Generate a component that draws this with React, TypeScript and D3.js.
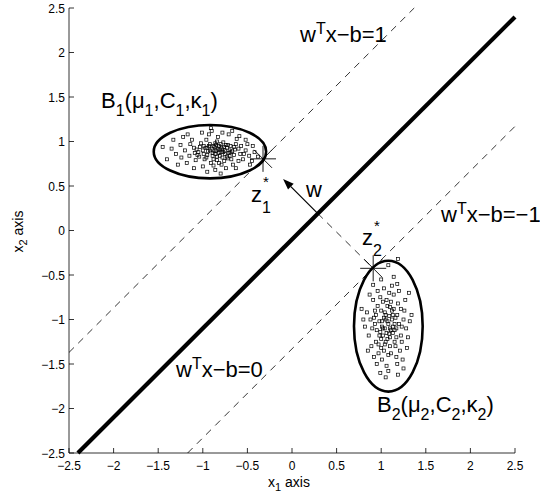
import * as d3 from "d3";

// axis ticks
const ticks = [-2.5, -2, -1.5, -1, -0.5, 0, 0.5, 1, 1.5, 2, 2.5];

// lines x2 = x1 + offset (slope ~1)
const slope = 1.0;
const offsetPlus = 1.13;   // w'x-b=1
const offsetZero = -0.1;   // w'x-b=0
const offsetMinus = -1.33; // w'x-b=-1

// ellipses: [cx, cy, rx, ry]
const ellipse1 = [-0.92, 0.886, 0.63, 0.3];
const ellipse2 = [1.08, -1.075, 0.385, 0.735];

// support points
const z1 = [-0.325, 0.805];
const z2 = [0.91, -0.425];
const footPoint = [0.29, 0.19];
const arrowHead = [-0.1, 0.58];

const pointsB1 = [
  [-0.85,0.90],[-0.80,0.88],[-0.90,0.92],[-0.75,0.86],[-0.95,0.85],[-0.82,0.95],[-0.70,0.90],[-0.88,0.80],[-1.00,0.90],[-0.78,0.82],
  [-0.92,0.97],[-0.65,0.85],[-1.05,0.88],[-0.72,0.96],[-0.86,0.86],[-0.98,0.80],[-0.60,0.92],[-1.10,0.93],[-0.84,1.00],[-0.76,0.78],
  [-0.94,0.89],[-0.68,0.80],[-1.02,0.98],[-0.81,0.91],[-0.73,0.93],[-0.89,0.84],[-0.58,0.86],[-1.15,0.84],[-0.96,1.02],[-0.79,0.74],
  [-0.87,0.94],[-0.63,0.97],[-1.08,0.79],[-0.70,0.84],[-0.91,0.76],[-0.55,0.80],[-1.20,0.90],[-0.83,1.05],[-0.66,0.74],[-1.00,0.72],
  [-0.77,0.99],[-0.52,0.90],[-1.25,0.96],[-0.93,1.08],[-0.74,0.70],[-1.12,1.02],[-0.62,1.03],[-0.48,0.84],[-1.30,0.86],[-0.86,0.68],
  [-0.97,0.93],[-0.69,0.88],[-0.80,0.97],[-1.06,0.85],[-0.57,0.95],[-0.90,1.12],[-0.45,0.78],[-1.35,0.92],[-0.71,1.08],[-1.18,0.76],
  [-0.84,0.83],[-0.64,0.91],[-1.03,0.94],[-0.75,0.90],[-0.99,0.86],[-0.50,0.97],[-1.22,1.05],[-0.88,0.73],[-0.60,0.78],[-1.14,0.97],
  [-0.78,1.10],[-0.42,0.88],[-1.40,0.80],[-0.95,0.66],[-0.67,1.12],[-1.28,0.74],[-0.82,0.87],[-0.73,0.83],[-0.93,0.95],[-0.87,0.89],
  [-1.07,0.91],[-0.54,0.86],[-0.38,0.83],[-1.45,0.94],[-0.80,0.64],[-1.01,1.10],[-0.59,1.06],[-0.47,0.74],[-1.33,1.02],[-0.91,1.15],
  [-0.76,0.94],[-0.85,0.96],[-0.69,0.95],[-0.96,0.82],[-1.10,0.70],[-0.63,0.70],[-1.17,1.08],[-0.52,1.02],[-0.44,0.95],[-1.24,0.82],
  [-0.83,0.92],[-0.77,0.88],[-0.89,0.87],[-0.81,0.84],[-0.74,0.96],[-0.92,0.90],[-0.79,0.93],[-0.86,0.98],[-0.71,0.87],[-0.95,0.93],
  [-0.84,0.79],[-0.67,0.89],[-1.04,0.83],[-0.78,0.91],[-0.88,0.95],[-0.72,0.81],[-0.99,0.95],[-0.82,0.76],[-0.65,0.94],[-1.09,0.87],
];

const pointsB2 = [
  [1.08,-1.05],[1.12,-1.00],[1.02,-1.10],[1.15,-1.12],[1.05,-0.95],[0.98,-1.02],[1.20,-1.05],[1.10,-1.20],[1.00,-0.90],[1.14,-0.88],
  [1.06,-1.15],[0.95,-1.12],[1.18,-0.95],[1.04,-1.28],[1.22,-1.18],[0.92,-0.98],[1.11,-0.80],[1.00,-1.22],[1.16,-1.30],[1.07,-0.85],
  [0.96,-0.85],[1.25,-1.00],[1.03,-1.35],[1.13,-1.08],[0.90,-1.10],[1.19,-0.82],[1.08,-1.40],[0.99,-0.75],[1.23,-1.25],[1.05,-1.00],
  [0.94,-1.25],[1.17,-1.42],[1.09,-0.70],[0.88,-1.00],[1.28,-1.10],[1.01,-1.45],[1.14,-0.72],[0.93,-0.90],[1.21,-1.35],[1.06,-1.52],
  [0.97,-1.38],[1.26,-0.90],[1.12,-0.62],[0.86,-1.18],[1.18,-1.50],[1.03,-0.65],[0.91,-0.78],[1.30,-1.20],[1.08,-1.58],[0.95,-1.50],
  [1.20,-0.68],[1.00,-0.55],[0.84,-0.92],[1.24,-1.45],[1.10,-1.30],[0.98,-1.18],[1.15,-1.05],[1.04,-0.92],[1.07,-1.22],[1.13,-1.15],
  [0.89,-1.30],[1.27,-0.78],[1.02,-0.80],[1.16,-0.98],[0.93,-1.05],[1.22,-0.88],[1.06,-0.78],[1.11,-1.38],[0.96,-0.68],[1.32,-1.02],
  [0.82,-1.08],[1.19,-1.62],[1.05,-1.65],[0.99,-1.60],[1.14,-0.52],[0.87,-0.72],[1.29,-1.32],[1.01,-1.02],[1.09,-0.96],[1.17,-1.20],
  [0.94,-0.95],[1.23,-1.08],[1.04,-1.10],[1.12,-0.90],[0.97,-1.28],[1.34,-0.95],[0.80,-1.00],[1.18,-0.60],[1.08,-0.39],[0.92,-1.42],
  [1.25,-1.55],[1.02,-1.18],[1.19,-0.32],[0.91,-0.61],[1.31,-0.70],[0.85,-1.35],[1.10,-1.10],[1.00,-1.32],[0.78,-0.88],[1.15,-1.25],
  [1.07,-1.02],[1.11,-1.12],[1.03,-0.98],[1.09,-1.16],[1.13,-0.95],[1.01,-1.08],[1.17,-1.10],[1.05,-1.25],[1.10,-0.86],[0.99,-1.14],
];

const W = 540, H = 495;
const font = "'Liberation Sans', Arial, Helvetica, sans-serif";

// text with sub/superscripts: [string, 0 normal | 1 sub | 2 sup]
const Rich = ({ x, y, parts, size = 22, small = 16, shift = 8 }: any) => {
  let level = 0;
  return (
    <text x={x} y={y} fontSize={size} fontFamily={font}>
      {parts.map(([t, m]: any, i: number) => {
        const target = m === 1 ? shift : m === 2 ? -shift : 0;
        const dy = target - level;
        level = target;
        return (
          <tspan key={i} dy={dy} fontSize={m ? small : size}>{t}</tspan>
        );
      })}
    </text>
  );
};

const Star = ({ cx, cy }: any) => {
  const r = 13, d = 9;
  return (
    <g stroke="#000" strokeWidth={0.9}>
      <line x1={cx - r} y1={cy} x2={cx + r} y2={cy} />
      <line x1={cx} y1={cy - r} x2={cx} y2={cy + r} />
      <line x1={cx - d} y1={cy - d} x2={cx + d} y2={cy + d} />
      <line x1={cx - d} y1={cy + d} x2={cx + d} y2={cy - d} />
    </g>
  );
};

const fmt = (t: number) => String(t).replace("-", "\u2212");

export default function App() {
  const x = d3.scaleLinear().domain([-2.5, 2.5]).range([69, 515]);
  const y = d3.scaleLinear().domain([-2.5, 2.5]).range([453, 8]);

  // clip a line x2 = slope*x1 + off to the square
  const seg = (off: number) => {
    let xa = -2.5, ya = slope * xa + off;
    if (ya < -2.5) { ya = -2.5; xa = (ya - off) / slope; }
    let xb = 2.5, yb = slope * xb + off;
    if (yb > 2.5) { yb = 2.5; xb = (yb - off) / slope; }
    return { x1: x(xa), y1: y(ya), x2: x(xb), y2: y(yb) };
  };

  const sPlus = seg(offsetPlus), sZero = seg(offsetZero), sMinus = seg(offsetMinus);

  // arrow
  const ax1 = x(footPoint[0]), ay1 = y(footPoint[1]);
  const ax2 = x(arrowHead[0]), ay2 = y(arrowHead[1]);
  const ang = Math.atan2(ay2 - ay1, ax2 - ax1);
  const hl = 11, hw = 4;
  const bx = ax2 - hl * Math.cos(ang), by = ay2 - hl * Math.sin(ang);
  const head = [
    [ax2, ay2],
    [bx + hw * Math.sin(ang), by - hw * Math.cos(ang)],
    [bx - hw * Math.sin(ang), by + hw * Math.cos(ang)],
  ];

  const dash = "7,6";

  return (
    <svg width={W} height={H} style={{ position: "absolute", left: 0, top: 0, background: "#fff" }}>
      <rect width={W} height={H} fill="#fff" />

      {/* dashed margins */}
      <line {...sPlus} stroke="#000" strokeWidth={0.8} strokeDasharray={dash} />
      <line {...sMinus} stroke="#000" strokeWidth={0.8} strokeDasharray={dash} />
      <line x1={x(footPoint[0])} y1={y(footPoint[1])} x2={x(z2[0])} y2={y(z2[1])}
        stroke="#000" strokeWidth={0.8} strokeDasharray={dash} />

      {/* separating hyperplane */}
      <line {...sZero} stroke="#000" strokeWidth={4.2} />

      {/* samples */}
      <g fill="none" stroke="#000" strokeWidth={0.7}>
        {pointsB1.map((p, i) => (
          <rect key={"a" + i} x={x(p[0]) - 1.5} y={y(p[1]) - 1.5} width={3} height={3} />
        ))}
        {pointsB2.map((p, i) => (
          <rect key={"b" + i} x={x(p[0]) - 1.5} y={y(p[1]) - 1.5} width={3} height={3} />
        ))}
      </g>

      {/* ellipsoids */}
      <ellipse cx={x(ellipse1[0])} cy={y(ellipse1[1])} rx={x(ellipse1[2]) - x(0)} ry={y(0) - y(ellipse1[3])}
        fill="none" stroke="#000" strokeWidth={2.6} />
      <ellipse cx={x(ellipse2[0])} cy={y(ellipse2[1])} rx={x(ellipse2[2]) - x(0)} ry={y(0) - y(ellipse2[3])}
        fill="none" stroke="#000" strokeWidth={2.6} />

      <Star cx={x(z1[0])} cy={y(z1[1])} />
      <Star cx={x(z2[0])} cy={y(z2[1])} />

      {/* w arrow */}
      <line x1={ax1} y1={ay1} x2={bx} y2={by} stroke="#000" strokeWidth={1.2} />
      <polygon points={head.map((p) => p.join(",")).join(" ")} fill="#000" />

      {/* axes */}
      <g fontFamily={font} fontSize={12} fill="#000">
        <line x1={x(-2.5)} y1={y(-2.5)} x2={x(2.5)} y2={y(-2.5)} stroke="#000" strokeWidth={0.8} />
        <line x1={x(-2.5)} y1={y(-2.5)} x2={x(-2.5)} y2={y(2.5)} stroke="#000" strokeWidth={0.8} />
        {ticks.map((t) => (
          <g key={"x" + t}>
            <line x1={x(t)} x2={x(t)} y1={y(-2.5)} y2={y(-2.5) - 5} stroke="#000" strokeWidth={0.8} />
            <text x={x(t)} y={y(-2.5) + 17} textAnchor="middle">{fmt(t)}</text>
          </g>
        ))}
        {ticks.map((t) => (
          <g key={"y" + t}>
            <line x1={x(-2.5)} x2={x(-2.5) + 5} y1={y(t)} y2={y(t)} stroke="#000" strokeWidth={0.8} />
            <text x={x(-2.5) - 4} y={y(t) + 4.5} textAnchor="end">{fmt(t)}</text>
          </g>
        ))}
      </g>

      {/* axis labels */}
      <Rich x={268} y={487} size={14} small={11} shift={4} parts={[["x", 0], ["1", 1], [" axis", 0]]} />
      <g transform={`translate(23, ${y(0) + 22}) rotate(-90)`}>
        <Rich x={0} y={0} size={14} small={11} shift={4} parts={[["x", 0], ["2", 1], [" axis", 0]]} />
      </g>

      {/* annotations */}
      <Rich x={300} y={42} parts={[["w", 0], ["T", 2], ["x\u2212b=1", 0]]} />
      <Rich x={441} y={222} parts={[["w", 0], ["T", 2], ["x\u2212b=\u22121", 0]]} />
      <Rich x={176} y={377} parts={[["w", 0], ["T", 2], ["x\u2212b=0", 0]]} />
      <Rich x={101} y={108} parts={[["B", 0], ["1", 1], ["(\u03bc", 0], ["1", 1], [",C", 0], ["1", 1], [",\u03ba", 0], ["1", 1], [")", 0]]} />
      <Rich x={377} y={412} parts={[["B", 0], ["2", 1], ["(\u03bc", 0], ["2", 1], [",C", 0], ["2", 1], [",\u03ba", 0], ["2", 1], [")", 0]]} />
      <Rich x={251} y={202} shift={11} parts={[["z", 0], ["1", 1]]} />
      <text x={263} y={187} fontSize={15} fontFamily={font}>*</text>
      <Rich x={362} y={245} shift={11} parts={[["z", 0], ["2", 1]]} />
      <text x={374} y={231} fontSize={15} fontFamily={font}>*</text>
      <Rich x={306} y={197} parts={[["w", 0]]} />
    </svg>
  );
}
